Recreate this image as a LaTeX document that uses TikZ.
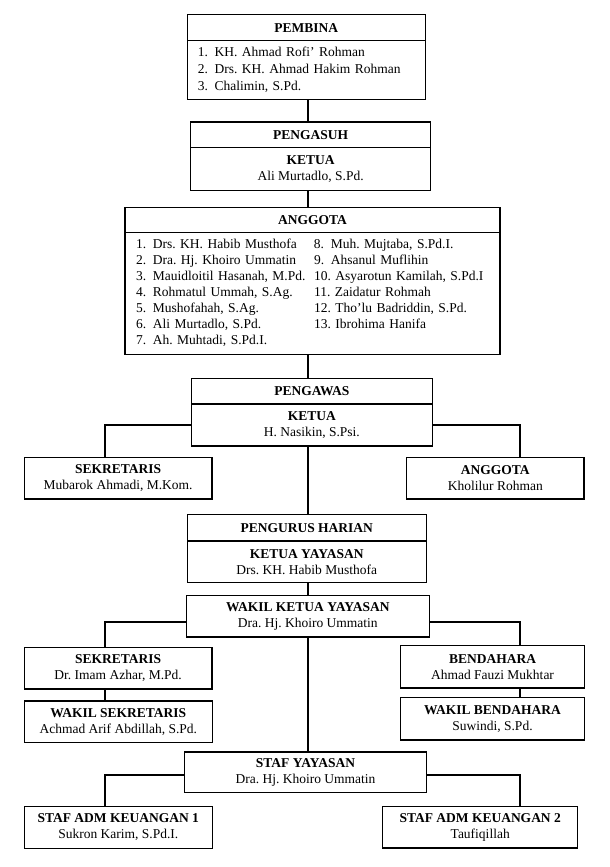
\documentclass[tikz,border=0pt]{standalone}
\usepackage{fontspec}
\setmainfont{Liberation Serif}
\usetikzlibrary{positioning,calc}
\newcommand{\orgfont}{\fontsize{13.5}{16}\selectfont\frenchspacing}
\newcommand{\nr}[1]{\makebox[16.8pt][l]{#1}}
\tikzset{box/.style={draw,line width=1.1pt,outer sep=0pt,inner sep=0pt,align=center,font=\orgfont},
  head/.style={box,font=\orgfont\bfseries},
  sz/.style 2 args={minimum width=#1pt,minimum height=#2pt},
  listbox/.style={box,align=left,inner xsep=#1pt},
  conn/.style={line width=1.8pt}}

\begin{document}
\frenchspacing
\begin{tikzpicture}[x=1pt,y=-1pt]
\useasboundingbox[fill=white] (0,0) rectangle (610,867);
\coordinate (spine) at (308,0); \coordinate (lft) at (105.3,0); \coordinate (rgt) at (520,0);
% pembina, pengasuh
\node[head,sz={237.7}{26}] (pembina) at (306.2,27.7) {PEMBINA};
\node[listbox=10.4,text width=216.9pt,minimum height=58.6pt,font=\fontsize{13.5}{16.8}\selectfont\frenchspacing,below=0pt of pembina] (pembinalist)
  {\nr{1.}KH. Ahmad Rofi' Rohman\\\nr{2.}Drs. KH. Ahmad Hakim Rohman\\\nr{3.}Chalimin, S.Pd.};
\node[head,sz={240.2}{25.7}] (pengasuh) at (310.6,134.85) {PENGASUH};
\node[box,sz={240.2}{42.6},below=0pt of pengasuh] (pengasuhketua) {\textbf{KETUA}\\Ali Murtadlo, S.Pd.};
\node[head,sz={375}{25}] (anggota) at (312.5,219.8) {ANGGOTA};
\node[listbox=11,text width=353pt,minimum height=122pt,below=0pt of anggota] (anggotalist)
  {\begin{tabular}{@{}p{178pt}@{}l@{}}
   \nr{1.}Drs. KH. Habib Musthofa & \nr{8.}Muh. Mujtaba, S.Pd.I.\\
   \nr{2.}Dra. Hj. Khoiro Ummatin & \nr{9.}Ahsanul Muflihin\\
   \nr{3.}Mauidloitil Hasanah, M.Pd. & 10. Asyarotun Kamilah, S.Pd.I\\
   \nr{4.}Rohmatul Ummah, S.Ag. & 11. Zaidatur Rohmah\\
   \nr{5.}Mushofahah, S.Ag. & 12. Tho'lu Badriddin, S.Pd.\\
   \nr{6.}Ali Murtadlo, S.Pd. & 13. Ibrohima Hanifa\\
   \nr{7.}Ah. Muhtadi, S.Pd.I. & \\
  \end{tabular}};
% pengawas
\node[head,sz={241}{25.7}] (pengawas) at (311.8,391.15) {PENGAWAS};
\node[box,sz={241}{42},below=0pt of pengawas] (pengawasketua) {\textbf{KETUA}\\H. Nasikin, S.Psi.};
\node[box,sz={187.7}{41.3}] (sekpgw) at (118.15,478.35) {\textbf{SEKRETARIS}\\Mubarok Ahmadi, M.Kom.};
\node[box,sz={177.3}{41.7}] (anggotapgw) at (495.35,478.15) {\textbf{ANGGOTA}\\Kholilur Rohman};
% pengurus harian
\node[head,sz={239}{26.3}] (harian) at (306.7,527.85) {PENGURUS HARIAN};
\node[box,sz={239}{41.7},below=0pt of harian] (ketuayys) {\textbf{KETUA YAYASAN}\\Drs. KH. Habib Musthofa};
\node[box,sz={243}{41.3}] (wakilketua) at (307.8,616.35) {\textbf{WAKIL KETUA YAYASAN}\\Dra. Hj. Khoiro Ummatin};
\node[box,sz={187.7}{41.7}] (sekretaris) at (118.15,668.15) {\textbf{SEKRETARIS}\\Dr. Imam Azhar, M.Pd.};
\node[box,sz={183.6}{42.3}] (bendahara) at (492.5,666.85) {\textbf{BENDAHARA}\\Ahmad Fauzi Mukhtar};
\node[box,sz={188}{41.7}] (wakilsek) at (118.3,721.85) {\textbf{WAKIL SEKRETARIS}\\Achmad Arif Abdillah, S.Pd.};
\node[box,sz={183.6}{42.7}] (wakilbend) at (492.5,718.65) {\textbf{WAKIL BENDAHARA}\\Suwindi, S.Pd.};
\node[box,sz={242.4}{40.7}] (staf) at (305.5,772.35) {\textbf{STAF YAYASAN}\\Dra. Hj. Khoiro Ummatin};
\node[box,sz={188}{41.6}] (admone) at (118.3,827.5) {\textbf{STAF ADM KEUANGAN 1}\\Sukron Karim, S.Pd.I.};
\node[box,sz={195}{41.7}] (admtwo) at (480.2,827.15) {\textbf{STAF ADM KEUANGAN 2}\\Taufiqillah};
% connectors
\draw[conn] (pembinalist.south -| spine) -- (pengasuh.north -| spine);
\draw[conn] (pengasuhketua.south -| spine) -- (anggota.north -| spine);
\draw[conn] (anggotalist.south -| spine) -- (pengawas.north -| spine);
\draw[conn] (pengawasketua.south -| spine) -- (harian.north -| spine);
\draw[conn] (ketuayys.south -| spine) -- (wakilketua.north -| spine);
\draw[conn] (wakilketua.south -| spine) -- (staf.north -| spine);
\draw[conn] (pengawasketua.west) -| (sekpgw.north -| lft);
\draw[conn] (pengawasketua.east) -| (anggotapgw.north -| rgt);
\draw[conn] ([yshift=-5.3pt]wakilketua.west) -| (sekretaris.north -| lft);
\draw[conn] ([yshift=-5.3pt]wakilketua.east) -| (bendahara.north -| rgt);
\draw[conn] (sekretaris.south -| lft) -- (wakilsek.north -| lft);
\draw[conn] (bendahara.south -| rgt) -- (wakilbend.north -| rgt);
\draw[conn] ([yshift=-2.6pt]staf.west) -| (admone.north -| lft);
\draw[conn] ([yshift=-2.6pt]staf.east) -| (admtwo.north -| rgt);
\end{tikzpicture}
\end{document}
